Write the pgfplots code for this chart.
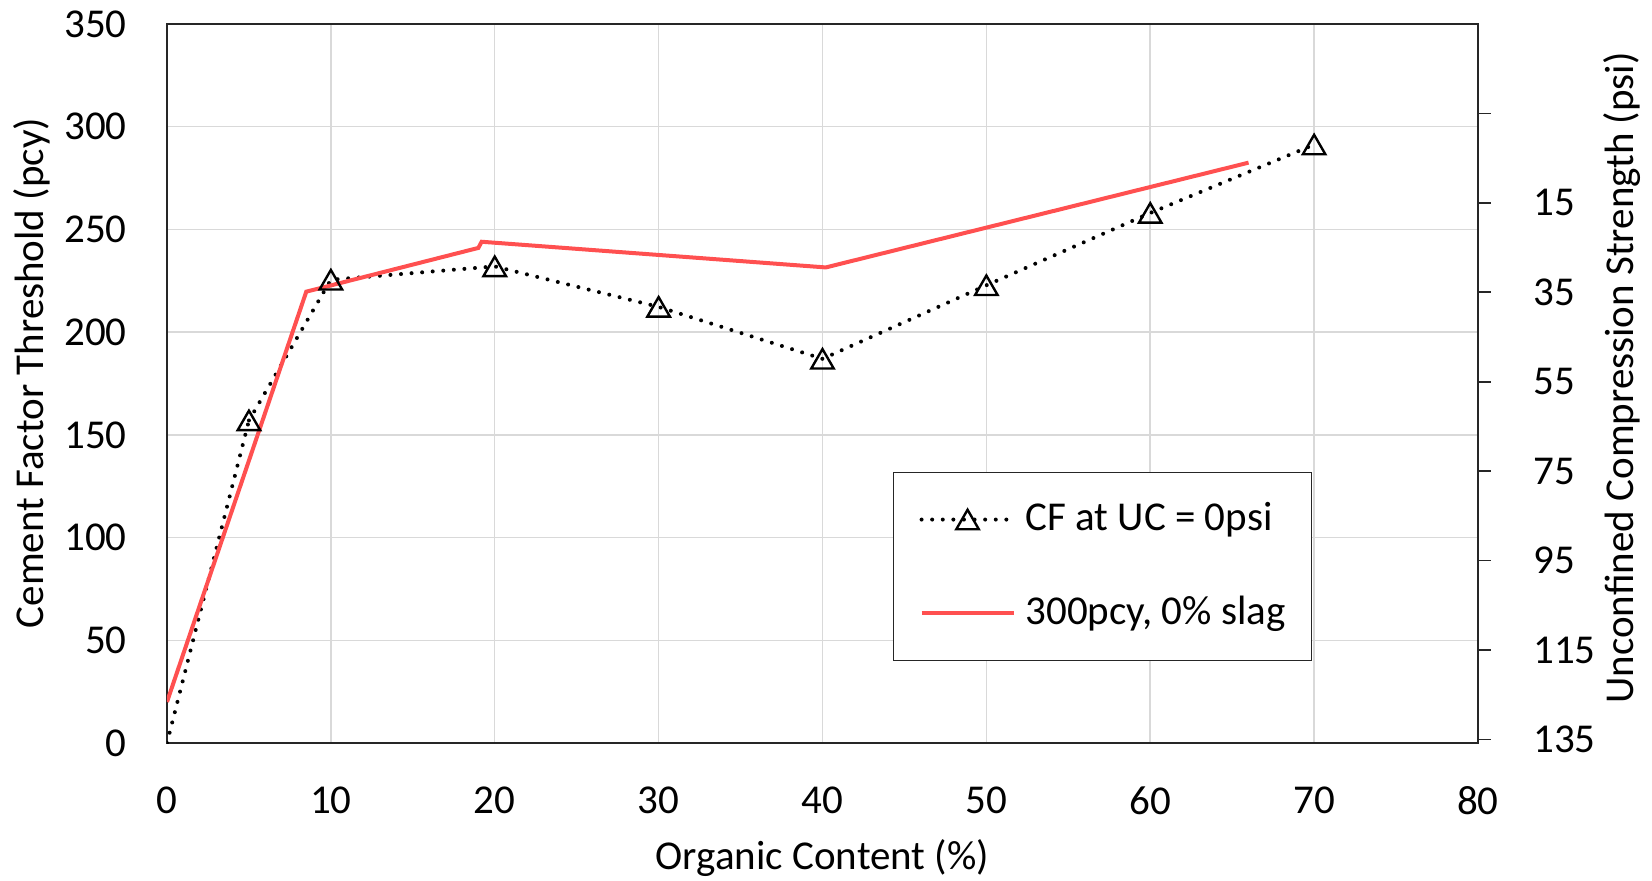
\documentclass[border=0pt]{standalone}
\usepackage{pgfplots}
\pgfplotsset{compat=1.18}
\usepackage{fontspec}
\setmainfont{Carlito}
\definecolor{redline}{RGB}{255,80,80}
\definecolor{gridc}{RGB}{217,217,217}
\definecolor{axc}{RGB}{38,38,38}
\newcommand{\chartfont}{\fontsize{20.5bp}{24bp}\selectfont}
\begin{document}
\chartfont
\begin{tikzpicture}
\useasboundingbox (-83.5bp,-69bp) rectangle (742.5bp,371.5bp);
\begin{axis}[
  scale only axis, width=655.5bp, height=359.5bp,
  xmin=0, xmax=80, ymin=0, ymax=350,
  xtick={0,10,...,80}, ytick={0,50,...,350},
  grid=major, major grid style={gridc, line width=0.75bp},
  axis line style={axc, line width=0.8bp},
  major tick length=0pt,
  /pgf/number format/assume math mode=true,
  tick label style={font=\chartfont},
  yticklabel style={anchor=east, inner sep=0pt, xshift=-20bp},
  xticklabel style={anchor=north, inner sep=0pt, yshift=-21.5bp},
  xlabel={Organic Content (\%)},
  ylabel={Cement Factor Threshold (pcy)},
  label style={font=\chartfont},
  xlabel style={at={(axis description cs:0.5,-0.16)}, anchor=center},
  ylabel style={at={(axis description cs:-0.103,0.5146)}, anchor=center},
  legend cell align=left,
  legend image code/.code={\draw[mark repeat=2,mark phase=2,#1] plot coordinates {(0bp,0bp) (23bp,0bp) (46bp,0bp)};},
  legend style={at={(axis description cs:0.5536,0.3775)}, anchor=north west,
    draw=axc, line width=0.8bp, fill=white, font=\chartfont,
    inner xsep=13bp, inner ysep=15bp, row sep=29.5bp, column sep=5bp,
    nodes={inner sep=0pt}},
]
\addplot[black, line width=2bp, line cap=round, dash pattern=on 0pt off 5.3bp, forget plot]
  coordinates {(0,0) (5,157)};
\addplot[black, line width=2bp, line cap=round, dash pattern=on 0pt off 5.3bp,
  mark=triangle, mark size=6.5bp,
  mark options={solid, draw=black, fill=none, line width=1.2bp, yshift=-1.6bp}]
  coordinates {(5,157) (10,225.5) (20,232) (30,212.3) (40,187) (50,222.8) (60,258) (70,291.3)};
\addlegendentry{CF at UC = 0psi}
\addplot[redline, line width=2bp, mark=none]
  coordinates {(0,20) (8.5,219.7) (19,241) (19.2,244) (40.2,231.5) (66,282.5)};
\addlegendentry{300pcy, 0\% slag}
\end{axis}
\begin{axis}[
  scale only axis, width=655.5bp, height=359.5bp,
  xmin=0, xmax=80, ymin=-25, ymax=135.8,
  y dir=reverse,
  axis x line=none, axis y line*=right,
  axis line style={axc, line width=0.8bp},
  ytick={-5,15,...,135},
  yticklabels={,15,35,55,75,95,115,135},
  tick align=outside, major tick length=6.5bp,
  tick style={axc, line width=0.8bp},
  /pgf/number format/assume math mode=true,
  tick label style={font=\chartfont},
  yticklabel style={anchor=west, inner sep=0pt, xshift=21bp},
  ylabel={Unconfined Compression Strength (psi)},
  label style={font=\chartfont},
  ylabel style={at={(axis description cs:1.1102,0.5077)}, anchor=center},
]
\addplot[draw=none, forget plot] coordinates {(0,0)};
\end{axis}
\end{tikzpicture}
\end{document}
